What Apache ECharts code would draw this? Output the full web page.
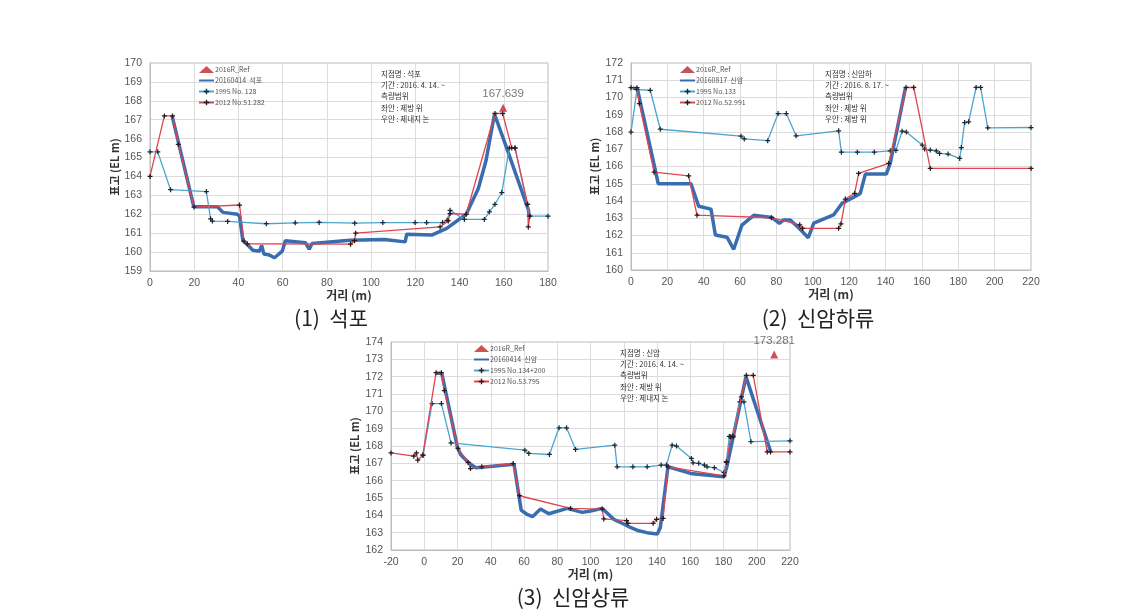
<!DOCTYPE html>
<html><head><meta charset="utf-8">
<script src="https://cdn.jsdelivr.net/npm/echarts@6/dist/echarts.min.js"></script>
<style>html,body{margin:0;padding:0;background:#fff}#c{width:1146px;height:610px}</style>
</head><body><div id="c"></div>
<script>
// ---------- DATA ----------
// Chart 1 : 석포
const c1Names = ['2016R_Ref', '20160414  석포', '1995 No. 128', '2012 No.51.282'];
const c1Ref = [[159.7, 167.639]];
const c1Now = [[10,167.2],[19.8,162.4],[30.5,162.4],[33,162.1],[39.5,162.0],[40.5,161.9],[42,160.6],[44,160.4],[46.5,160.1],[49.5,160.05],[50.5,160.35],[51.5,159.9],[54,159.85],[56.3,159.7],[59.8,160.05],[61.2,160.6],[70.3,160.5],[72,160.15],[73.3,160.45],[90.5,160.62],[106,160.67],[115.4,160.54],[116.1,160.95],[127.4,160.9],[134.2,161.25],[143,162.0],[148.5,163.36],[152,164.86],[155.8,167.3],[160.6,165.74],[171.1,162.25],[171.5,161.9]];
const c1Y1995 = [[0,165.3],[3.5,165.3],[9.3,163.3],[25.5,163.2],[27.4,161.76],[28.2,161.64],[35.1,161.62],[52.6,161.5],[65.7,161.55],[76.5,161.57],[92.6,161.53],[105.3,161.56],[119.9,161.56],[125.1,161.56],[132.3,161.56],[134.4,161.68],[135.7,162.21],[142.2,161.73],[151.2,161.73],[153.5,162.13],[156,162.53],[159.1,163.15],[162.5,165.51],[165.1,165.51],[170.6,162.53],[171.6,161.9],[180,161.9]];
const c1Y2012 = [[0,164.0],[6.5,167.2],[10.2,167.2],[12.8,165.7],[19.9,162.38],[40.5,162.49],[42.5,160.58],[44,160.44],[90.7,160.42],[92.5,160.6],[93,161.0],[131.2,161.33],[134.9,161.65],[135.7,162.04],[143,162.0],[156,167.33],[159.5,167.33],[163.6,165.5],[165.1,165.5],[170.8,162.53],[171.1,161.33],[171.8,161.9]];

// Chart 2 : 신암하류
const c2Names = ['2016R_Ref', '20160817  신암', '1995 No.133', '2012 No.52.991'];
const c2Ref = [];
const c2Now = [[1,170.55],[3.5,170.5],[15,165.0],[33,165.0],[37.2,163.7],[44,163.53],[46.4,162.03],[52.8,161.9],[56.5,161.2],[61,162.6],[67.5,163.17],[77.5,163.05],[81.6,162.7],[84,162.9],[87.6,162.9],[92.2,162.45],[97.5,161.87],[100.5,162.72],[111.4,163.19],[116,163.86],[123,164.25],[126.1,164.44],[128.9,165.56],[140.4,165.56],[142.6,166.2],[151,170.58]];
const c2Y1995 = [[0,168.0],[3.3,170.46],[10.6,170.42],[16.1,168.16],[60.5,167.76],[62.3,167.6],[75.2,167.5],[80.9,169.07],[85.4,169.07],[90.8,167.78],[114.2,168.07],[115.7,166.83],[124.5,166.83],[133.8,166.83],[142.6,166.91],[145.7,166.93],[149.1,168.05],[151.4,168.0],[160.2,167.24],[161.5,167.01],[164.6,166.95],[167.9,166.9],[169.7,166.76],[174.4,166.72],[180.8,166.47],[181.7,167.1],[183.5,168.55],[185.7,168.59],[189.8,170.58],[192.3,170.58],[196.2,168.24],[220,168.26]];
const c2Y2012 = [[0,170.57],[3.3,170.57],[4.6,169.65],[12.7,165.67],[31.7,165.46],[36.3,163.18],[77.2,163.03],[92.8,162.62],[94.4,162.41],[114.2,162.42],[115.5,162.67],[117.9,164.11],[123,164.44],[125.2,165.6],[141.7,166.18],[151.3,170.58],[155.5,170.58],[164.6,165.89],[220,165.89]];

// Chart 3 : 신암상류
const c3Names = ['2016R_Ref', '20160414  신암', '1995 No.134+200', '2012 No.53.795'];
const c3Ref = [[210.5, 173.281]];
const c3Now = [[7.5,172.2],[10.5,172.2],[20,167.9],[22,167.5],[27,167.0],[31,166.75],[54,166.95],[58.3,164.3],[61.9,164.05],[65.1,163.92],[69.9,164.36],[74.9,164.09],[86,164.4],[95,164.17],[100,164.25],[107,164.4],[114,163.77],[120,163.5],[124,163.3],[129,163.11],[134,163.0],[140.2,162.92],[142,163.3],[146.6,166.8],[160.2,166.42],[180.3,166.22],[182,166.8],[193.5,172.0],[208.3,167.7]];
const c3Y1995 = [[-0.7,167.47],[4.7,170.45],[10.3,170.45],[16.1,168.18],[60.5,167.76],[62.9,167.57],[75.3,167.51],[81.1,169.05],[85.6,169.05],[91,167.8],[114.6,168.05],[116,166.8],[125.5,166.8],[134.1,166.8],[142.5,166.9],[145.7,166.9],[149.1,168.05],[151.7,168.0],[160.7,167.28],[161.7,167.03],[165.1,167.0],[168.5,166.9],[170.1,166.8],[174.5,166.75],[180.3,166.47],[181.7,167.1],[183.5,168.55],[185.7,168.59],[189.8,170.55],[192.3,170.55],[196.5,168.25],[220,168.3]];
const c3Y2012 = [[-20,167.6],[-6.3,167.41],[-4.7,167.6],[-3.9,167.18],[-0.9,167.47],[7.1,172.23],[10.3,172.23],[12.1,171.2],[20.3,167.86],[26.4,167.05],[27.8,166.7],[34.6,166.8],[53.5,166.99],[57.3,165.13],[88,164.4],[107,164.36],[108,163.79],[121.7,163.69],[122.5,163.54],[137.7,163.54],[139.7,163.77],[143.7,163.82],[146.6,166.8],[180.3,166.28],[181.9,167.05],[184.3,168.53],[185.9,168.53],[190.7,170.83],[193.7,172.08],[197.9,172.08],[206.3,167.66],[208.3,167.66],[220,167.66]];

// Axis ranges
const xRanges = [[0,180,20],[0,220,20],[-20,220,20]];
const yRanges = [[159,170,1],[160,172,1],[162,174,1]];
const captions = ['(1)  석포', '(2)  신암하류', '(3)  신암상류'];
const notes = [
  ['지점명 : 석포', '기간 : 2016. 4. 14. ~', '측량범위', '좌안 : 제방 위', '우안 : 제내지 논'],
  ['지점명 : 신암하', '기간 : 2016. 8. 17. ~', '측량범위', '좌안 : 제방 위', '우안 : 제방 위'],
  ['지점명 : 신암', '기간 : 2016. 4. 14. ~', '측량범위', '좌안 : 제방 위', '우안 : 제내지 논']
];

// ---------- LAYOUT / STYLE ----------
const FONT = '"Noto Sans CJK KR", "Liberation Sans", sans-serif';
const NUMF = '"Liberation Sans", Arial, sans-serif';
const grids = [
  {left:150, top:63, width:398, height:208},
  {left:631, top:63, width:400, height:207},
  {left:391, top:342, width:399, height:208}
];
const yNameGap = [17, 31, 31];
const legendPos = [{left:198, top:66}, {left:679, top:66}, {left:473, top:345}];
const notePos = [{x:381, y:75}, {x:825, y:75}, {x:620, y:354}];
const capPos = [{x:331, y:318}, {x:818, y:318}, {x:573, y:597}];

const C_NOW = '#3a6cb0', C_95 = '#4aa5cf', C_12 = '#e04552', C_REF = '#c1272d';
const PLUS = 'path://M0,3H8V5H0Z M3,0H5V8H3Z';

const sets = [
  {names:c1Names, ref:c1Ref, now:c1Now, y95:c1Y1995, y12:c1Y2012},
  {names:c2Names, ref:c2Ref, now:c2Now, y95:c2Y1995, y12:c2Y2012},
  {names:c3Names, ref:c3Ref, now:c3Now, y95:c3Y1995, y12:c3Y2012}
];

const option = {animation:false, backgroundColor:'#fff', grid:[], xAxis:[], yAxis:[], legend:[], series:[], graphic:[]};

sets.forEach((s, i) => {
  const g = grids[i];
  option.grid.push(Object.assign({show:true, borderColor:'#bdbdbd', borderWidth:1, backgroundColor:'#fff'}, g));
  option.xAxis.push({
    type:'value', gridIndex:i, min:xRanges[i][0], max:xRanges[i][1], interval:xRanges[i][2],
    name:'거리 (m)', nameLocation:'middle', nameGap:15,
    nameTextStyle:{fontFamily:FONT, fontWeight:'bold', fontSize:12, color:'#333'},
    axisLine:{show:true, onZero:false, lineStyle:{color:'#bdbdbd'}}, axisTick:{show:false},
    axisLabel:{fontFamily:NUMF, fontSize:10.5, color:'#555', margin:7},
    splitLine:{show:true, lineStyle:{color:'#dcdcdc', width:1}}
  });
  option.yAxis.push({
    type:'value', gridIndex:i, min:yRanges[i][0], max:yRanges[i][1], interval:yRanges[i][2],
    name:'표고 (EL m)', nameLocation:'middle', nameGap:yNameGap[i],
    nameTextStyle:{fontFamily:FONT, fontWeight:'bold', fontSize:11, color:'#333'},
    axisLine:{show:true, onZero:false, lineStyle:{color:'#bdbdbd'}}, axisTick:{show:false},
    axisLabel:{fontFamily:NUMF, fontSize:10.5, color:'#555', margin:8},
    splitLine:{show:true, lineStyle:{color:'#dcdcdc', width:1}}
  });
  option.legend.push({
    orient:'vertical', left:legendPos[i].left, top:legendPos[i].top,
    itemWidth:15, itemHeight:7, itemGap:4, padding:0,
    textStyle:{fontFamily:FONT, fontSize:7, color:'#555', padding:[0,0,0,-4]},
    data:[s.names[0], {name:s.names[1], itemStyle:{opacity:0}}, s.names[2], s.names[3]]
  });
  const ax = {xAxisIndex:i, yAxisIndex:i};
  option.series.push(Object.assign({
    name:s.names[1], type:'line', data:s.now, symbol:'none', z:2,
    lineStyle:{width:3.5, color:C_NOW}, itemStyle:{color:C_NOW}
  }, ax));
  option.series.push(Object.assign({
    name:s.names[2], type:'line', data:s.y95, symbol:PLUS, symbolSize:5, showAllSymbol:true, z:3,
    lineStyle:{width:1.3, color:C_95}, itemStyle:{color:'#1e2a33'}
  }, ax));
  option.series.push(Object.assign({
    name:s.names[3], type:'line', data:s.y12, symbol:PLUS, symbolSize:5, showAllSymbol:true, z:4,
    lineStyle:{width:1.3, color:C_12}, itemStyle:{color:'#2a1a1a'}
  }, ax));
  option.series.push(Object.assign({
    name:s.names[0], type:'scatter', data:s.ref, symbol:'triangle', symbolSize:8, z:5,
    itemStyle:{color:C_REF},
    label:{show:true, position:'top', distance:4, fontFamily:NUMF, fontSize:11.5, color:'#555',
      formatter:p => p.value[1].toFixed(3)}
  }, ax));
  // notes
  notes[i].forEach((t, k) => {
    option.graphic.push({type:'text', left:notePos[i].x, top:notePos[i].y - 5 + k*11.4, z:10,
      style:{text:t, fontFamily:FONT, fontSize:7.5, fill:'#333'}});
  });
  option.graphic.push({type:'text', z:10, x:capPos[i].x, y:capPos[i].y,
    style:{text:captions[i], fontFamily:FONT, fontSize:21, fill:'#222', align:'center', verticalAlign:'middle'}});
});

const chart = echarts.init(document.getElementById('c'), null, {renderer:'canvas'});
chart.setOption(option);
</script>
</body></html>
